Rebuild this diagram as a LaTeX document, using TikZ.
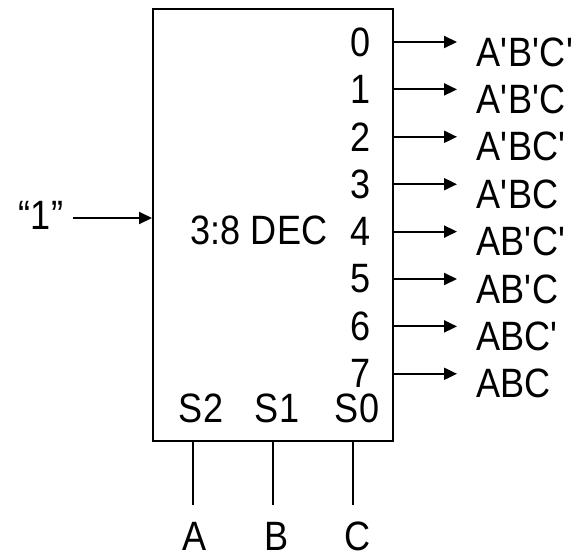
\documentclass[tikz,border=0pt]{standalone}
\usepackage{fontspec}
\setmainfont{Liberation Sans}[FakeStretch=0.88]
\usetikzlibrary{arrows.meta}
\newcommand{\ap}{\textquotesingle}
\begin{document}
\begin{tikzpicture}[x=1pt,y=-1pt,
  wire/.style={line width=2pt},
  arr/.style={line width=2pt,-{Triangle[length=13pt,width=12pt]}},
  txt/.style={inner sep=0pt,font=\fontsize{41}{48}\selectfont}]
\useasboundingbox (0,0) rectangle (581,555);
\node[draw,line width=2pt,minimum width=240pt,minimum height=432pt,inner sep=0pt] (box) at (273,225) {};
\node[txt] (dec) at (259,230) {3:8 DEC};
\foreach \i/\lab in {0/A\ap B\ap C\ap,1/A\ap B\ap C,2/A\ap BC\ap,3/A\ap BC,4/AB\ap C\ap,5/AB\ap C,6/ABC\ap,7/ABC}{
  \pgfmathsetmacro{\yy}{42+47.4*\i}
  \coordinate (o\i) at (393,\yy);
  \node[txt,anchor=east] (d\i) at (371,\yy) {\i};
  \node[txt,anchor=west] (L\i) at (476,\yy+10) {\lab};
  \coordinate (t\i) at (457,\yy);
  \draw[arr] (o\i) -- (t\i);
}
\node[txt] (one) at (41,215) {“1”};
\draw[arr] (73,218) -- (box.west |- 0,218);
\node[txt] (s2) at (201,408) {S2};
\node[txt] (s1) at (277,408) {S1};
\node[txt] (s0) at (357,408) {S0};
\node[txt] (a) at (195,536) {A};
\node[txt] (b) at (277,536) {B};
\node[txt] (c) at (358,536) {C};
\draw[wire] (193,441) -- (193,505);
\draw[wire] (273,441) -- (273,505);
\draw[wire] (353,441) -- (353,505);
\end{tikzpicture}
\end{document}
